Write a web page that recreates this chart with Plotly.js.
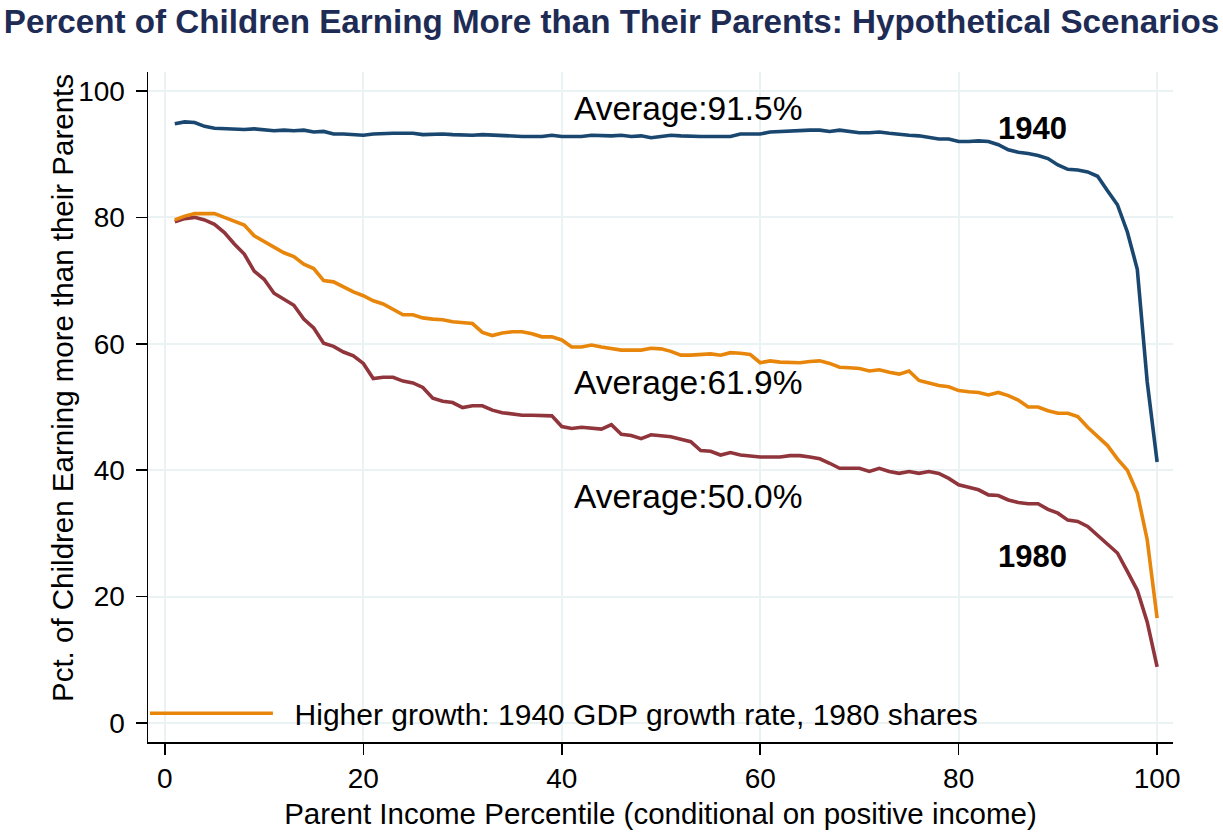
<!DOCTYPE html>
<html>
<head>
<meta charset="utf-8">
<script src="https://cdn.plot.ly/plotly-3.0.1.min.js"></script>
<style>html,body{margin:0;padding:0;background:#fff;}#chart{width:1223px;height:835px;}</style>
</head>
<body>
<div id="chart"></div>
<script>
// Parent income percentile
const percentiles = Array.from({length: 100}, (_, i) => i + 1);

// 1940 cohort (blue)
const series1940 = [
  94.8, 95.1, 95.0, 94.4, 94.1, 94.0, 94.0, 93.9, 94.0, 93.8,
  93.7, 93.8, 93.7, 93.8, 93.5, 93.6, 93.2, 93.2, 93.1, 93.0,
  93.2, 93.3, 93.3, 93.3, 93.3, 93.1, 93.2, 93.2, 93.1, 93.0,
  93.0, 93.1, 93.0, 93.0, 92.9, 92.8, 92.8, 92.8, 93.0, 92.8,
  92.8, 92.8, 93.0, 92.9, 92.9, 93.0, 92.8, 92.9, 92.6, 92.8,
  93.0, 92.9, 92.8, 92.8, 92.8, 92.8, 92.8, 93.2, 93.2, 93.2,
  93.5, 93.6, 93.7, 93.8, 93.8, 93.8, 93.6, 93.8, 93.6, 93.4,
  93.4, 93.5, 93.3, 93.1, 93.0, 92.9, 92.6, 92.4, 92.4, 92.0,
  92.0, 92.1, 92.0, 91.5, 90.7, 90.3, 90.1, 89.8, 89.3, 88.3,
  87.6, 87.5, 87.2, 86.5, 84.2, 82.0, 77.7, 71.8, 54.0, 41.3
];

// Higher growth: 1940 GDP growth rate, 1980 shares (orange)
const seriesHigherGrowth = [
  79.6, 80.2, 80.6, 80.6, 80.6, 80.0, 79.4, 78.8, 77.1, 76.2,
  75.2, 74.4, 73.8, 72.6, 71.9, 70.0, 69.8, 69.0, 68.2, 67.6,
  66.8, 66.3, 65.4, 64.6, 64.6, 64.1, 63.9, 63.8, 63.5, 63.3,
  63.2, 61.8, 61.3, 61.7, 61.9, 61.9, 61.6, 61.1, 61.1, 60.6,
  59.5, 59.5, 59.8, 59.5, 59.3, 59.0, 59.0, 59.0, 59.3, 59.2,
  58.8, 58.2, 58.2, 58.3, 58.4, 58.2, 58.6, 58.5, 58.3, 57.0,
  57.3, 57.1, 57.1, 57.0, 57.2, 57.3, 56.9, 56.3, 56.2, 56.1,
  55.7, 55.9, 55.5, 55.2, 55.7, 54.2, 53.8, 53.4, 53.2, 52.6,
  52.4, 52.3, 51.9, 52.3, 51.8, 51.1, 50.0, 50.0, 49.4, 49.0,
  49.0, 48.5, 46.8, 45.4, 43.9, 41.8, 40.0, 36.4, 29.0, 16.6
];

// 1980 cohort (maroon)
const series1980 = [
  79.3, 79.8, 80.0, 79.6, 78.9, 77.6, 75.8, 74.2, 71.5, 70.2,
  68.0, 67.0, 66.1, 63.9, 62.5, 60.1, 59.6, 58.7, 58.1, 56.9,
  54.5, 54.7, 54.7, 54.1, 53.8, 53.1, 51.4, 50.9, 50.7, 49.9,
  50.2, 50.2, 49.5, 49.1, 48.9, 48.7, 48.7, 48.6, 48.6, 46.9,
  46.6, 46.8, 46.7, 46.5, 47.2, 45.7, 45.5, 45.0, 45.6, 45.5,
  45.3, 44.9, 44.5, 43.1, 43.0, 42.4, 42.8, 42.4, 42.2, 42.1,
  42.1, 42.1, 42.3, 42.3, 42.1, 41.8, 41.1, 40.3, 40.3, 40.3,
  39.8, 40.3, 39.8, 39.5, 39.8, 39.5, 39.8, 39.5, 38.7, 37.7,
  37.3, 36.9, 36.1, 36.0, 35.3, 34.9, 34.7, 34.7, 33.8, 33.2,
  32.1, 31.9, 31.1, 29.7, 28.3, 26.9, 24.0, 21.0, 16.0, 8.9
];

const tickValsX = [0, 20, 40, 60, 80, 100];
const tickValsY = [0, 20, 40, 60, 80, 100];

const labelTexts = ["Average:91.5%", "Average:61.9%", "Average:50.0%"];
const labelX = [41.0, 41.0, 41.0];
const labelY = [97.3, 53.9, 35.9];
const cohortTexts = ["1940", "1980"];
const cohortX = [83.8, 83.8];
const cohortY = [94.1, 26.3];

const FONT = "Liberation Sans, Arial, Helvetica, sans-serif";

const traces = [
  {x: percentiles, y: series1940, type: "scatter", mode: "lines",
   line: {color: "#1a476f", width: 3.6}, showlegend: false, name: "1940"},
  {x: percentiles, y: series1980, type: "scatter", mode: "lines",
   line: {color: "#90353b", width: 3.6}, showlegend: false, name: "1980"},
  {x: percentiles, y: seriesHigherGrowth, type: "scatter", mode: "lines",
   line: {color: "#e8860c", width: 3.6}, showlegend: true,
   name: "&nbsp;&nbsp;Higher growth: 1940 GDP growth rate, 1980 shares"}
];

const annotations = [];
labelTexts.forEach((t, i) => annotations.push({
  x: labelX[i], y: labelY[i], xref: "x", yref: "y", text: t, showarrow: false,
  xanchor: "left", yanchor: "middle", font: {family: FONT, size: 33.5, color: "#000"}
}));
cohortTexts.forEach((t, i) => annotations.push({
  x: cohortX[i], y: cohortY[i], xref: "x", yref: "y", text: "<b>" + t + "</b>", showarrow: false,
  xanchor: "left", yanchor: "middle", font: {family: FONT, size: 31, color: "#000"}
}));
// y-axis title (placed as annotation for exact position)
annotations.push({
  x: 62, y: 388, xref: "paper", yref: "paper", text: "Pct. of Children Earning more than their Parents",
  showarrow: false, textangle: -90, xanchor: "center", yanchor: "middle",
  font: {family: FONT, size: 29.5, color: "#000"}
});

const gridColor = "#eaf2f3";

const layout = {
  width: 1223, height: 835,
  margin: {l: 148, r: 50, t: 72, b: 93, pad: 0},
  paper_bgcolor: "#fff", plot_bgcolor: "#fff",
  font: {family: FONT, color: "#000", size: 28},
  title: {text: "<b>Percent of Children Earning More than Their Parents: Hypothetical Scenarios</b>",
          font: {family: FONT, size: 33.2, color: "#1e2c55"},
          x: 0.5, xanchor: "center", xref: "container", y: 0.974, yanchor: "middle"},
  xaxis: {
    range: [-1.7, 101.6], tickvals: tickValsX, ticktext: tickValsX.map(String),
    showline: true, linecolor: "#000", linewidth: 1.5, mirror: false,
    ticks: "outside", ticklen: 11, tickwidth: 1.5, tickcolor: "#000",
    showgrid: true, gridcolor: gridColor, gridwidth: 2, zeroline: false,
    tickfont: {family: FONT, size: 28, color: "#000"},
    title: {text: "Parent Income Percentile (conditional on positive income)",
            font: {family: FONT, size: 29.5, color: "#000"}, standoff: 10}
  },
  yaxis: {
    range: [-3, 103], tickvals: tickValsY, ticktext: tickValsY.map(String),
    showline: true, linecolor: "#000", linewidth: 1.5, mirror: false,
    ticks: "outside", ticklen: 11, tickwidth: 1.5, tickcolor: "#000",
    showgrid: true, gridcolor: gridColor, gridwidth: 2, zeroline: false,
    ticklabelstandoff: 5,
    tickfont: {family: FONT, size: 28, color: "#000"}
  },
  legend: {x: -0.003, xanchor: "left", y: 0.043, yanchor: "middle",
           bgcolor: "rgba(0,0,0,0)", borderwidth: 0, itemwidth: 123,
           font: {family: FONT, size: 30, color: "#000"}},
  annotations: annotations,
  showlegend: true
};

// convert pixel position of y-axis title annotation to paper coords
(function () {
  const a = annotations[annotations.length - 1];
  const plotW = layout.width - layout.margin.l - layout.margin.r;
  const plotH = layout.height - layout.margin.t - layout.margin.b;
  a.x = (a.x - layout.margin.l) / plotW;
  a.y = (layout.height - layout.margin.b - a.y) / plotH;
})();

Plotly.newPlot("chart", traces, layout, {displayModeBar: false, staticPlot: true});
</script>
</body>
</html>
